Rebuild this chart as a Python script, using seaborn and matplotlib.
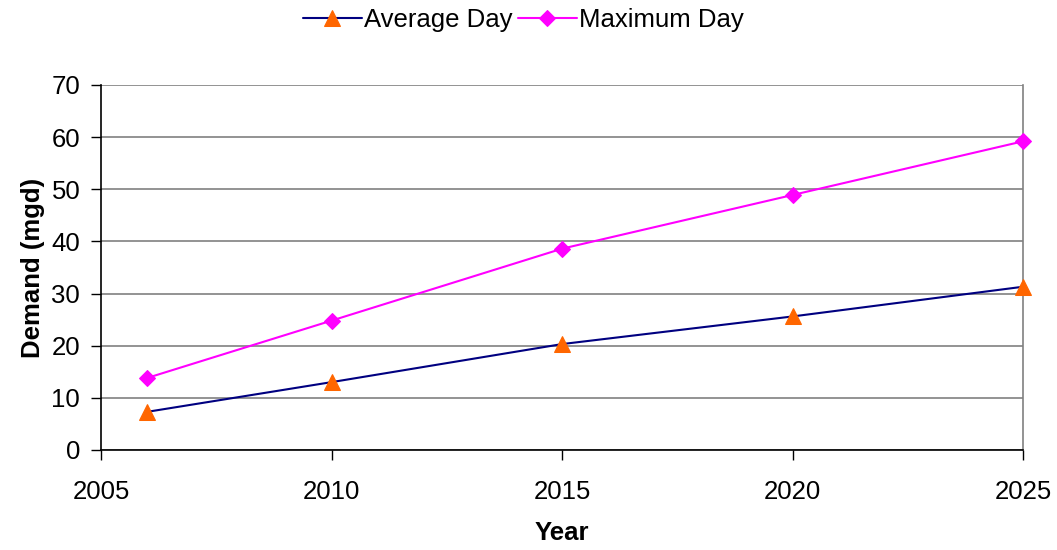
import matplotlib
matplotlib.use("Agg")
import matplotlib.pyplot as plt
import seaborn as sns

years = [2006, 2010, 2015, 2020, 2025]
average_day = [7.3, 13.0, 20.3, 25.6, 31.3]
maximum_day = [13.8, 24.8, 38.6, 48.9, 59.2]
x_ticks = [2005, 2010, 2015, 2020, 2025]
y_ticks = [0, 10, 20, 30, 40, 50, 60, 70]

sns.set_theme(style="white")
plt.rcParams['font.family'] = ['Liberation Sans', 'DejaVu Sans']
plt.rcParams['text.color'] = 'black'
plt.rcParams['axes.labelcolor'] = 'black'
plt.rcParams['xtick.color'] = 'black'
plt.rcParams['ytick.color'] = 'black'

fig = plt.figure(figsize=(10.57, 5.5), dpi=100)
ax = fig.add_axes([0.0956, 0.182, 0.8724, 0.6635])

sns.lineplot(x=years, y=average_day, ax=ax, color='#000080', lw=1.5,
             marker='^', markersize=11, markerfacecolor='#FF6600',
             markeredgecolor='#FF6600', label='Average Day', clip_on=False, zorder=3)
sns.lineplot(x=years, y=maximum_day, ax=ax, color='#FF00FF', lw=1.5,
             marker='D', markersize=8, markerfacecolor='#FF00FF',
             markeredgecolor='#FF00FF', label='Maximum Day', clip_on=False, zorder=3)

ax.set_xlim(2005, 2025)
ax.set_ylim(0, 70)
ax.set_xticks(x_ticks)
ax.set_yticks(y_ticks)
ax.yaxis.grid(True, color='#808080', lw=1.2)
ax.set_axisbelow(True)
ax.spines['right'].set_color('#808080')
ax.spines['right'].set_linewidth(1.2)
ax.spines['top'].set_visible(False)
for s in ['left', 'bottom']:
    ax.spines[s].set_color('black')
    ax.spines[s].set_linewidth(1.2)
ax.tick_params(axis='both', which='major', direction='out', length=7,
               width=1, color='black', labelsize=18.5, labelcolor='black',
               bottom=True, left=True)
ax.tick_params(axis='y', pad=8)
ax.tick_params(axis='x', pad=15)
ax.set_xlabel('Year', fontsize=18.5, fontweight='bold', labelpad=12, color='black')
ax.set_ylabel('Demand (mgd)', fontsize=18.5, fontweight='bold', labelpad=5, color='black')

leg = ax.legend(loc='upper center', bbox_to_anchor=(0.458, 1.275), ncol=2,
                frameon=False, fontsize=18.5, handlelength=2.3, handletextpad=0.1,
                columnspacing=0.2)
for t in leg.get_texts():
    t.set_color('black')

fig.savefig('out.png', dpi=100)
